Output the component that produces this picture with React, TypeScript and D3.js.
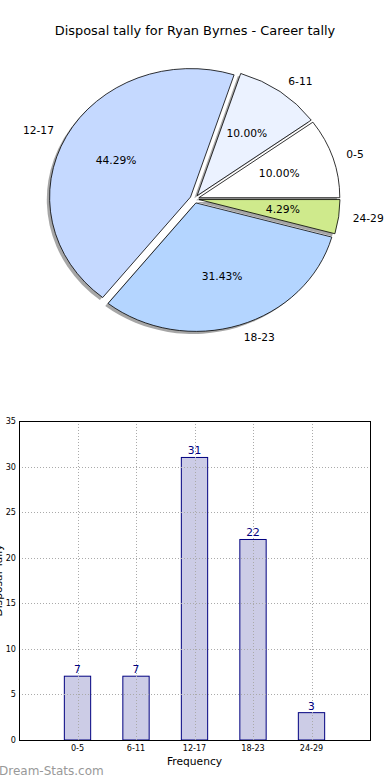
import React from 'react';
import * as d3 from 'd3';

const categories = ['0-5', '6-11', '12-17', '18-23', '24-29'];
const tallies = [7, 7, 31, 22, 3];
const sliceColors = ['#ffffff', '#ebf2ff', '#c5d9ff', '#b4d5ff', '#cfea8c'];
const yTicks = [0, 5, 10, 15, 20, 25, 30, 35];

const W = 390;
const H = 780;
const font = '"DejaVu Sans", sans-serif';
const narrow = '"Liberation Sans Narrow", "DejaVu Sans Condensed", "DejaVu Sans", sans-serif';

// pie geometry (matplotlib-like, stretched axes)
const cx = 194.5;
const cy = 199;
const rx = 141;
const ry = 128.5;
const explode = 0.032;
const shadowOff = 0.02;

function Pie() {
  const total = d3.sum(tallies);
  const arcs = d3
    .pie<number>()
    .sort(null)
    .startAngle(Math.PI / 2)
    .endAngle(Math.PI / 2 - 2 * Math.PI)(tallies);
  const arc = d3.arc<d3.PieArcDatum<number>>().innerRadius(0).outerRadius(1);

  const items = arcs.map((a, i) => {
    const mid = (a.startAngle + a.endAngle) / 2;
    const ux = Math.sin(mid);
    const uy = -Math.cos(mid);
    const ox = cx + explode * rx * ux;
    const oy = cy + explode * ry * uy;
    return { a, i, ux, uy, ox, oy };
  });

  return (
    <g>
      {items.map(({ a, i, ox, oy }) => (
        <path
          key={'s' + i}
          d={arc(a) || ''}
          transform={`translate(${ox - shadowOff * rx},${oy + shadowOff * ry}) scale(${rx},${ry})`}
          fill="rgb(77,77,77)"
          fillOpacity={0.5}
          stroke="none"
        />
      ))}
      {items.map(({ a, i, ox, oy }) => (
        <path
          key={'w' + i}
          d={arc(a) || ''}
          transform={`translate(${ox},${oy}) scale(${rx},${ry})`}
          fill={sliceColors[i]}
          stroke="#000"
          strokeWidth={0.8}
          vectorEffect="non-scaling-stroke"
          strokeLinejoin="round"
        />
      ))}
      {items.map(({ i, ux, uy, ox, oy }) => (
        <text
          key={'p' + i}
          x={ox + 0.6 * rx * ux}
          y={oy + 0.6 * ry * uy}
          textAnchor="middle"
          dominantBaseline="central"
          fontFamily={font}
          fontSize={10.7}
          fill="#000"
        >
          {((tallies[i] / total) * 100).toFixed(2)}%
        </text>
      ))}
      {items.map(({ i, ux, uy, ox, oy }) => (
        <text
          key={'l' + i}
          x={ox + 1.1 * rx * ux}
          y={oy + 1.1 * ry * uy}
          textAnchor={ux > 0 ? 'start' : 'end'}
          dominantBaseline="central"
          fontFamily={font}
          fontSize={10.7}
          fill="#000"
        >
          {categories[i]}
        </text>
      ))}
    </g>
  );
}

function Bars() {
  const left = 19;
  const right = 370;
  const top = 421;
  const bottom = 740;
  const x = d3.scaleLinear().domain([-1, categories.length]).range([left, right]);
  const y = d3.scaleLinear().domain([0, 35]).range([bottom, top]);
  const bw = (x(1) - x(0)) * 0.45;

  return (
    <g>
      {tallies.map((v, i) => (
        <rect
          key={'b' + i}
          x={x(i) - bw / 2}
          y={y(v)}
          width={bw}
          height={y(0) - y(v)}
          fill="#ccccE6"
          stroke="#000080"
          strokeWidth={1}
        />
      ))}
      {yTicks.slice(1, -1).map((t) => (
        <line
          key={'gy' + t}
          x1={left}
          x2={right}
          y1={Math.round(y(t)) + 0.5}
          y2={Math.round(y(t)) + 0.5}
          stroke="#aaaaaa"
          strokeWidth={1}
          strokeDasharray="1,2"
        />
      ))}
      {categories.map((c, i) => (
        <line
          key={'gx' + c}
          x1={Math.round(x(i)) + 0.5}
          x2={Math.round(x(i)) + 0.5}
          y1={top}
          y2={bottom}
          stroke="#aaaaaa"
          strokeWidth={1}
          strokeDasharray="1,2"
        />
      ))}
      <rect x={left + 0.5} y={top + 0.5} width={right - left} height={bottom - top} fill="none" stroke="#000" strokeWidth={1} />
      {yTicks.map((t) => (
        <text
          key={'ty' + t}
          x={16}
          y={y(t)}
          textAnchor="end"
          dominantBaseline="central"
          fontFamily={narrow}
          fontSize={9}
          fill="#000"
        >
          {t}
        </text>
      ))}
      {categories.map((c, i) => (
        <text key={'tx' + c} x={x(i)} y={751} textAnchor="middle" fontFamily={narrow} fontSize={9} fill="#000">
          {c}
        </text>
      ))}
      {tallies.map((v, i) => (
        <text key={'v' + i} x={x(i)} y={y(v) - 3} textAnchor="middle" fontFamily={font} fontSize={10.7} fill="#000080">
          {v}
        </text>
      ))}
      <text x={(left + right) / 2} y={765} textAnchor="middle" fontFamily={font} fontSize={10.7} fill="#000">
        Frequency
      </text>
      {/* y label sits mostly off the left edge, as in the source image */}
      <text
        transform={`translate(2,${(top + bottom) / 2}) rotate(-90)`}
        textAnchor="middle"
        fontFamily={font}
        fontSize={10.7}
        fill="#000"
      >
        Disposal Tally
      </text>
    </g>
  );
}

export default function App() {
  return (
    <svg
      width={W}
      height={H}
      viewBox={`0 0 ${W} ${H}`}
      style={{ position: 'absolute', left: 0, top: 0, background: '#fff' }}
    >
      <rect width={W} height={H} fill="#fff" />
      <text x={195} y={30} textAnchor="middle" dominantBaseline="central" fontFamily={font} fontSize={12.9} fill="#000">
        Disposal tally for Ryan Byrnes - Career tally
      </text>
      <Pie />
      <Bars />
      <text x={-1} y={775} fontFamily={font} fontSize={12} fill="#999999">
        Dream-Stats.com
      </text>
    </svg>
  );
}
